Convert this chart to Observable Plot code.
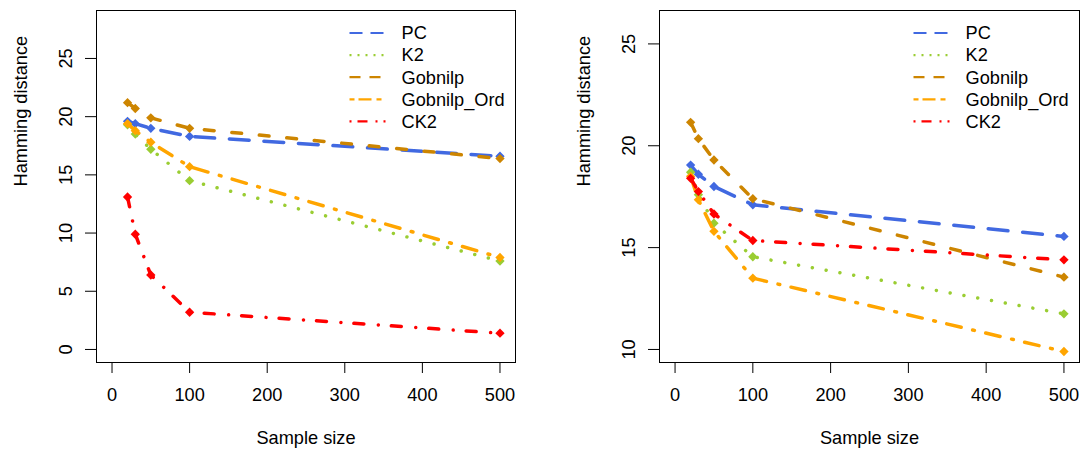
<!DOCTYPE html>
<html><head><meta charset="utf-8">
<script src="https://cdn.jsdelivr.net/npm/d3@7"></script>
<script src="https://cdn.jsdelivr.net/npm/@observablehq/plot@0.6"></script>
<style>
body{margin:0;background:#fff;}
#wrap{display:flex;width:1080px;height:453px;overflow:hidden;}
.panel{position:relative;width:540px;height:453px;}
.panel svg{display:block;}
.panel svg.legend{position:absolute;left:0;top:0;pointer-events:none;}
</style></head><body><div id="wrap"></div><script>
// ---- data ----
const sampleSizes = [20, 30, 50, 100, 500];
const seriesNames = ["PC", "K2", "Gobnilp", "Gobnilp_Ord", "CK2"];
const xTicks = [0, 100, 200, 300, 400, 500];

// left panel
const leftPC        = [19.6, 19.4, 19.0, 18.3, 16.6];
const leftK2        = [19.3, 18.5, 17.2, 14.5, 7.6];
const leftGobnilp   = [21.2, 20.7, 19.9, 19.0, 16.4];
const leftGobOrd    = [19.4, 18.8, 17.8, 15.7, 7.9];
const leftCK2       = [13.1, 9.9, 6.4, 3.2, 1.4];
const leftYTicks    = [0, 5, 10, 15, 20, 25];

// right panel
const rightPC       = [19.05, 18.6, 18.0, 17.1, 15.55];
const rightK2       = [18.7, 17.6, 16.2, 14.55, 11.75];
const rightGobnilp  = [21.15, 20.35, 19.3, 17.4, 13.55];
const rightGobOrd   = [18.5, 17.35, 15.8, 13.5, 9.9];
const rightCK2      = [18.4, 17.75, 16.65, 15.35, 14.4];
const rightYTicks   = [10, 15, 20, 25];

// ---- styles ----
const colors = ["#4169E1", "#9ACD32", "#CD8500", "#FFA500", "#FF0000"];
const lineDash = ["19.8,14.8", "0.01,14", "9.8,17.8", "14.8,11.8,1.8,11.6", "10,14.5,0.01,13"];
const legendDash = ["13,8", "2,6", "11,9", "5,4,13,5", "2,6,10,8"];
const FONT = "'Liberation Sans', Arial, Helvetica, sans-serif";
const FS = 18.2;

function makePanel(valueSets, yLim, yTicks, marginLeft, marginRight) {
  const pad = (yLim[1] - yLim[0]) * 0.04;
  const xPad = 500 * 0.04;
  const marks = [
    Plot.frame({stroke: "#000", strokeWidth: 1}),
    Plot.axisX({ticks: xTicks, tickSize: 11, tickPadding: 15, label: null, fontSize: FS}),
    Plot.axisY({ticks: yTicks, tickSize: 11, tickPadding: 14, tickRotate: -90, label: null, fontSize: FS}),
    Plot.text(["Sample size"], {frameAnchor: "bottom", dy: 76, lineAnchor: "middle", fontSize: FS}),
    Plot.text(["Hamming distance"], {frameAnchor: "left", dx: -75, rotate: -90, lineAnchor: "middle", fontSize: FS})
  ];
  valueSets.forEach((vals, s) => {
    const rows = sampleSizes.map((n, i) => ({n, v: vals[i]}));
    marks.push(Plot.line(rows, {x: "n", y: "v", stroke: colors[s], strokeWidth: 3.5,
      strokeDasharray: lineDash[s], strokeLinecap: "round", strokeLinejoin: "round"}));
    marks.push(Plot.dot(rows, {x: "n", y: "v", fill: colors[s], symbol: "diamond2", r: 4.2, stroke: null}));
  });
  const width = 540, height = 453;
  const chart = Plot.plot({
    width, height, marginLeft, marginRight, marginTop: 10, marginBottom: 91,
    x: {domain: [0 - xPad, 500 + xPad]},
    y: {domain: [yLim[0] - pad, yLim[1] + pad]},
    style: {fontFamily: FONT, fontSize: FS + "px", color: "#000", background: "#fff", overflow: "visible"},
    marks
  });
  const div = document.createElement("div");
  div.className = "panel";
  div.appendChild(chart);

  // legend (topright, no box)
  const frameRight = width - marginRight;
  const x0 = frameRight - 165.5;
  const leg = d3.create("svg").attr("class", "legend").attr("width", width).attr("height", height);
  seriesNames.forEach((name, i) => {
    const y = 33 + i * 22.1;
    leg.append("line").attr("x1", x0).attr("x2", x0 + 36).attr("y1", y).attr("y2", y)
      .attr("stroke", colors[i]).attr("stroke-width", 2.2).attr("stroke-dasharray", legendDash[i]);
    leg.append("text").attr("x", x0 + 52).attr("y", y).attr("dy", "0.35em")
      .attr("font-family", FONT).attr("font-size", FS).attr("fill", "#000").text(name);
  });
  div.appendChild(leg.node());
  return div;
}

const wrap = document.getElementById("wrap");
wrap.appendChild(makePanel([leftPC, leftK2, leftGobnilp, leftGobOrd, leftCK2], [0, 28], leftYTicks, 96, 25));
wrap.appendChild(makePanel([rightPC, rightK2, rightGobnilp, rightGobOrd, rightCK2], [10, 26], rightYTicks, 119, 1));
</script></body></html>
